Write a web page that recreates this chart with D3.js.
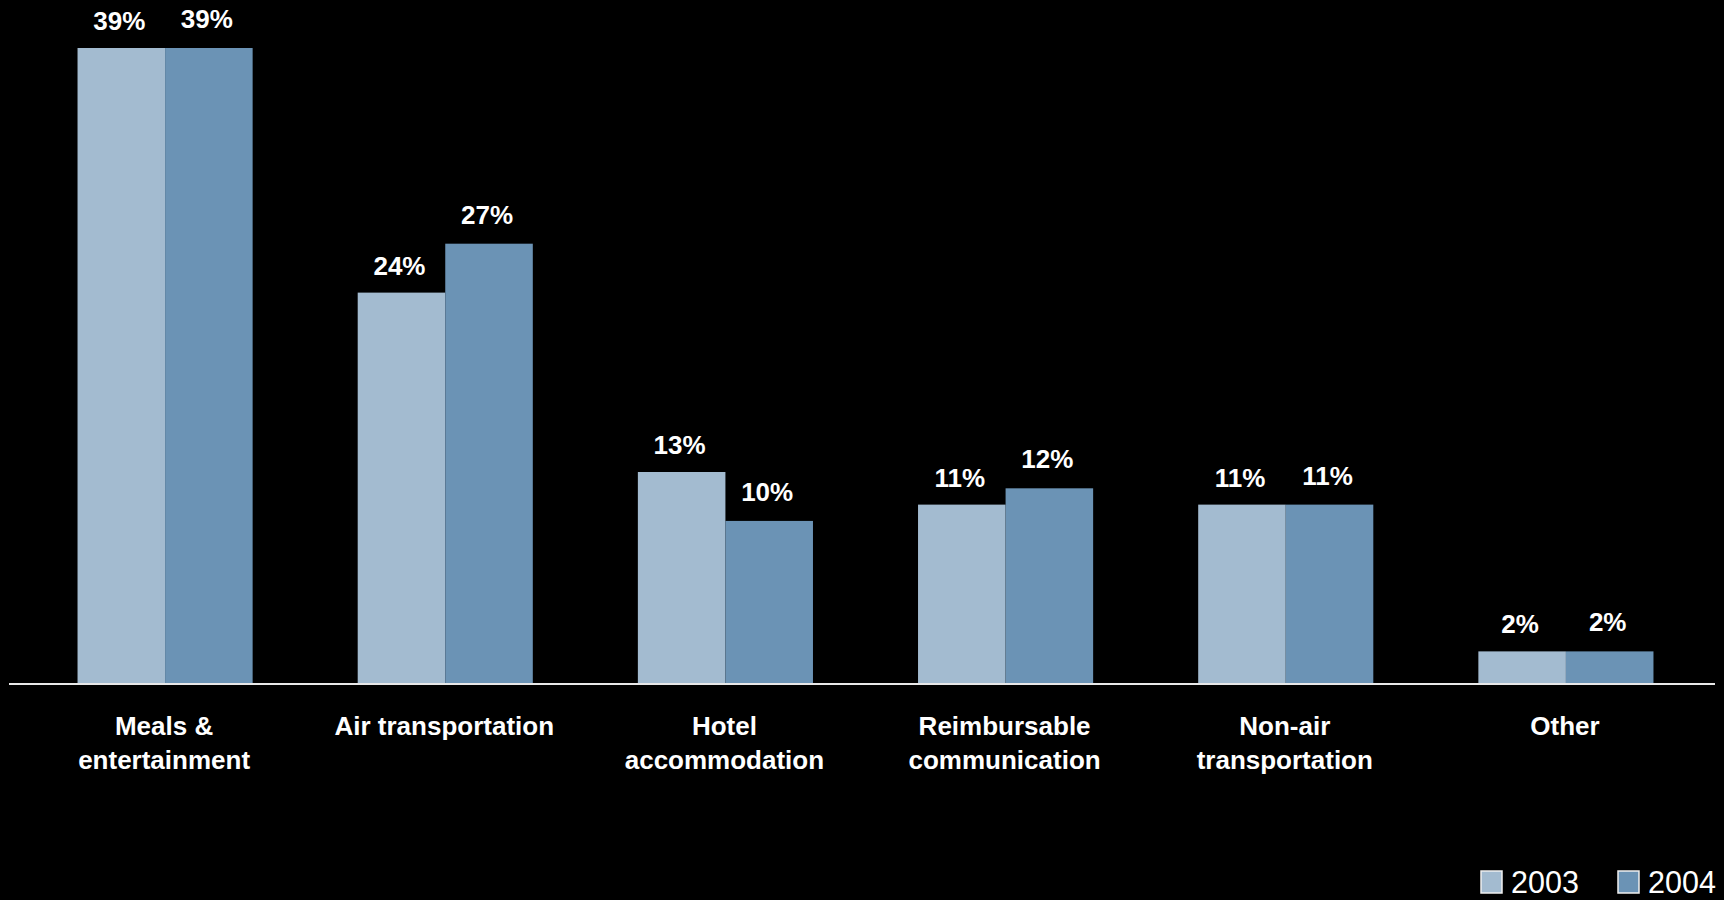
<!DOCTYPE html>
<html>
<head>
<meta charset="utf-8">
<script src="https://cdn.jsdelivr.net/npm/d3@7"></script>
<style>
  html, body { margin: 0; padding: 0; background: #000; }
  svg { display: block; }
  text { font-family: "Liberation Sans", Arial, Helvetica, sans-serif; fill: #fff; }
</style>
</head>
<body>
<svg id="chart" width="1724" height="900"></svg>
<script>
// Share of travel & entertainment spend by category
const categories = [
  ["Meals &", "entertainment"],
  ["Air transportation"],
  ["Hotel", "accommodation"],
  ["Reimbursable", "communication"],
  ["Non-air", "transportation"],
  ["Other"]
];
const categoryKeys = categories.map(c => c.join(" "));
const seriesNames = ["2003", "2004"];
const values2003 = [39, 24, 13, 11, 11, 2];
const values2004 = [39, 27, 10, 12, 11, 2];
const seriesValues = [values2003, values2004];
const seriesColors = ["#a3bbd0", "#6b93b5"];

const svg = d3.select("#chart");
const W = 1724, H = 900;

svg.append("rect").attr("width", W).attr("height", H).attr("fill", "#000");

const x0 = d3.scaleBand()
  .domain(categoryKeys)
  .range([25, 1706])
  .paddingInner(0.375)
  .paddingOuter(0.1875);

const x1 = d3.scaleBand()
  .domain(seriesNames)
  .range([0, x0.bandwidth()]);

const y = d3.scaleLinear()
  .domain([0, 39])
  .range([684, 48]);

const rows = categoryKeys.map((k, i) => ({
  key: k,
  vals: seriesNames.map((s, j) => ({ series: s, idx: j, value: seriesValues[j][i] }))
}));

const groups = svg.append("g").selectAll("g")
  .data(rows)
  .join("g")
  .attr("transform", d => `translate(${x0(d.key)},0)`);

groups.selectAll("rect")
  .data(d => d.vals)
  .join("rect")
  .attr("x", d => x1(d.series))
  .attr("y", d => y(d.value))
  .attr("width", x1.bandwidth())
  .attr("height", d => y(0) - y(d.value))
  .attr("fill", d => seriesColors[d.idx]);

groups.selectAll("text.val")
  .data(d => d.vals)
  .join("text")
  .attr("class", "val")
  .attr("x", d => x1(d.series) + x1.bandwidth() / 2 - 2)
  .attr("y", d => y(d.value) - (d.idx === 0 ? 18 : 20))
  .attr("text-anchor", "middle")
  .attr("font-size", 26)
  .attr("font-weight", "bold")
  .text(d => d.value + "%");

// baseline
svg.append("line")
  .attr("x1", 9).attr("x2", 1715)
  .attr("y1", y(0)).attr("y2", y(0))
  .attr("stroke", "#e8e8e8")
  .attr("stroke-width", 2);

// category axis
const axis = svg.append("g")
  .attr("transform", `translate(0,${y(0)})`)
  .call(d3.axisBottom(x0).tickSize(0).tickFormat(() => ""));
axis.select(".domain").remove();
axis.selectAll(".tick text").remove();
axis.selectAll(".tick").each(function(d, i) {
  const t = d3.select(this).append("text")
    .attr("text-anchor", "middle")
    .attr("font-size", 26)
    .attr("font-weight", "bold")
    .attr("fill", "#fff")
    .attr("x", -1);
  categories[i].forEach((line, k) => {
    t.append("tspan").attr("x", -1).attr("y", 51 + k * 34).text(line);
  });
});

// legend
const legendX = [1481, 1618];
const legend = svg.append("g").selectAll("g")
  .data(seriesNames)
  .join("g")
  .attr("transform", (d, i) => `translate(${legendX[i]},871)`);
legend.append("rect")
  .attr("width", 21).attr("height", 22)
  .attr("fill", (d, i) => seriesColors[i])
  .attr("stroke", "#f0f0f0")
  .attr("stroke-width", 1.5);
legend.append("text")
  .attr("x", 30).attr("y", 22)
  .attr("font-size", 30.5)
  .text(d => d);
</script>
</body>
</html>
